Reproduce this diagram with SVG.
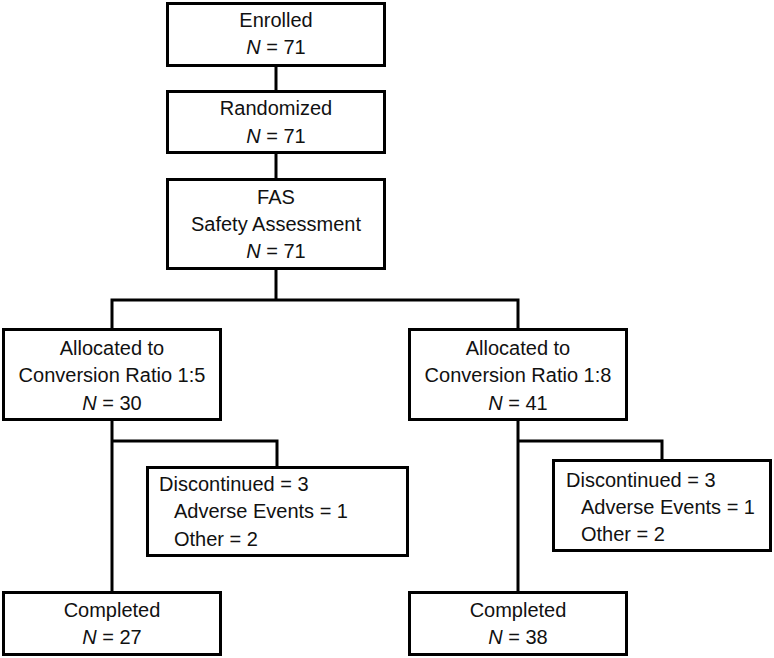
<svg xmlns="http://www.w3.org/2000/svg" width="774" height="658" viewBox="0 0 774 658">
<style>
rect.box{fill:#fff;stroke:#000;stroke-width:3}
.c line,.c polyline{stroke:#000;stroke-width:3;fill:none}
text{font-family:"Liberation Sans",Arial,sans-serif;font-size:20px;fill:#111}
.m{text-anchor:middle}
.i{font-style:italic}
</style>
<rect width="774" height="658" fill="#fff"/>
<g class="c" id="connectors">
<line x1="276" y1="66" x2="276" y2="91"/>
<line x1="276" y1="153" x2="276" y2="179"/>
<line x1="276" y1="269" x2="276" y2="300"/>
<polyline points="112,330 112,300 518,300 518,330"/>
<line x1="112" y1="420" x2="112" y2="592"/>
<polyline points="112,441 277,441 277,467"/>
<line x1="518" y1="420" x2="518" y2="592"/>
<polyline points="518,441 662,441 662,460"/>
</g>
<g id="enrolled">
<rect class="box" x="167.5" y="3.5" width="217" height="62"/>
<text class="m" x="276" y="27">Enrolled</text>
<text class="m" x="276" y="54"><tspan class="i">N</tspan> = 71</text>
</g>
<g id="randomized">
<rect class="box" x="167.5" y="91.5" width="217" height="61"/>
<text class="m" x="276" y="115">Randomized</text>
<text class="m" x="276" y="143"><tspan class="i">N</tspan> = 71</text>
</g>
<g id="fas">
<rect class="box" x="167.5" y="179.5" width="217" height="89"/>
<text class="m" x="276" y="204">FAS</text>
<text class="m" x="276" y="231">Safety Assessment</text>
<text class="m" x="276" y="258"><tspan class="i">N</tspan> = 71</text>
</g>
<g id="alloc15">
<rect class="box" x="3.5" y="329.5" width="217" height="90"/>
<text class="m" x="112" y="355">Allocated to</text>
<text class="m" x="112" y="382">Conversion Ratio 1:5</text>
<text class="m" x="112" y="410"><tspan class="i">N</tspan> = 30</text>
</g>
<g id="alloc18">
<rect class="box" x="409.5" y="329.5" width="217" height="90"/>
<text class="m" x="518" y="355">Allocated to</text>
<text class="m" x="518" y="382">Conversion Ratio 1:8</text>
<text class="m" x="518" y="410"><tspan class="i">N</tspan> = 41</text>
</g>
<g id="disc15">
<rect class="box" x="147.5" y="467.5" width="260" height="88"/>
<text x="159" y="491">Discontinued = 3</text>
<text x="174" y="518">Adverse Events = 1</text>
<text x="174" y="546">Other = 2</text>
</g>
<g id="disc18">
<rect class="box" x="553.5" y="460.5" width="217" height="90"/>
<text x="566" y="487">Discontinued = 3</text>
<text x="581" y="514">Adverse Events = 1</text>
<text x="581" y="541">Other = 2</text>
</g>
<g id="completed15">
<rect class="box" x="3.5" y="592.5" width="217" height="62"/>
<text class="m" x="112" y="617">Completed</text>
<text class="m" x="112" y="644"><tspan class="i">N</tspan> = 27</text>
</g>
<g id="completed18">
<rect class="box" x="409.5" y="592.5" width="217" height="62"/>
<text class="m" x="518" y="617">Completed</text>
<text class="m" x="518" y="644"><tspan class="i">N</tspan> = 38</text>
</g>
</svg>
